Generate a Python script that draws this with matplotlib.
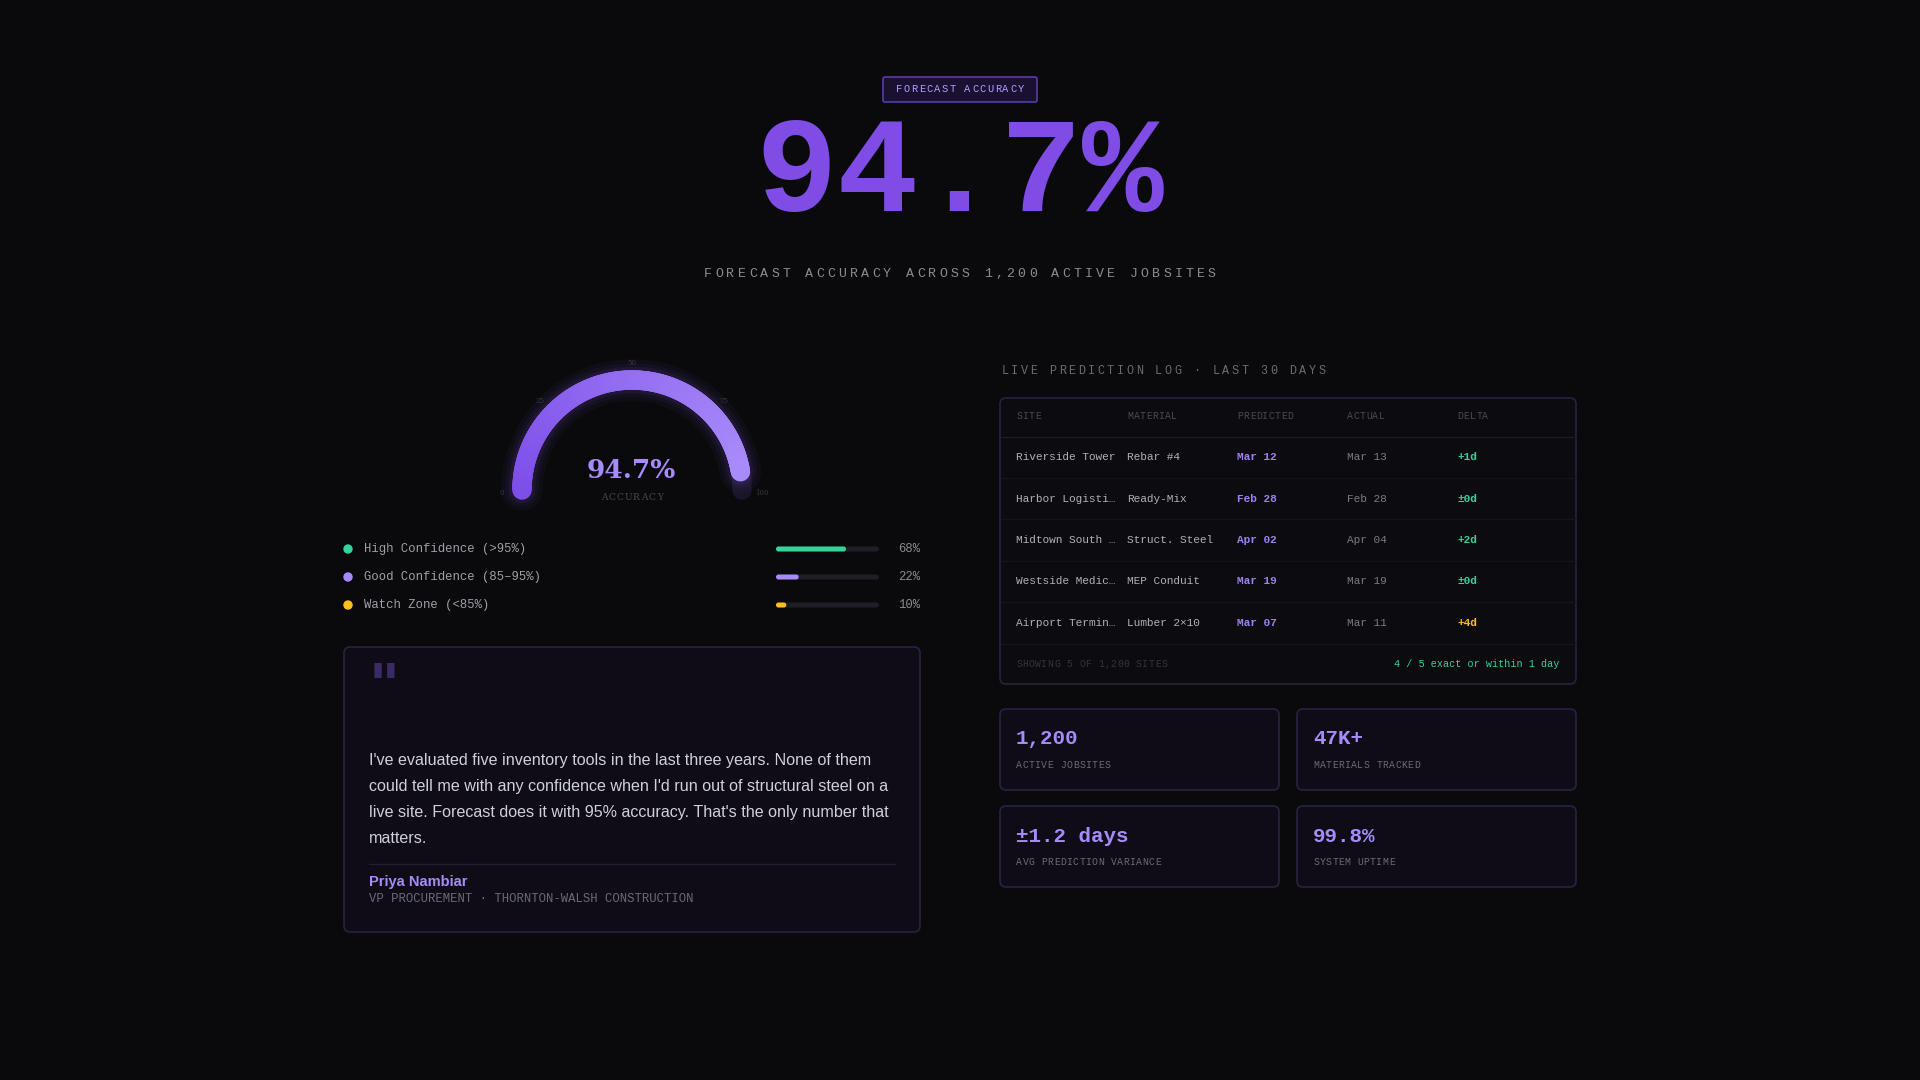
import matplotlib
matplotlib.use("Agg")
import matplotlib.pyplot as plt
import numpy as np
from matplotlib.patches import FancyBboxPatch, Circle

accuracy = 94.7
conf_labels = ["High Confidence (>95%)", "Good Confidence (85–95%)", "Watch Zone (<85%)"]
conf_values = [68, 22, 10]
conf_colors = ["#34d399", "#a78bfa", "#fbbf24"]
sites = ["Riverside Tower", "Harbor Logisti…", "Midtown South …", "Westside Medic…", "Airport Termin…"]
materials = ["Rebar #4", "Ready-Mix", "Struct. Steel", "MEP Conduit", "Lumber 2×10"]
predicted = ["Mar 12", "Feb 28", "Apr 02", "Mar 19", "Mar 07"]
actual = ["Mar 13", "Feb 28", "Apr 04", "Mar 19", "Mar 11"]
deltas = ["+1d", "±0d", "+2d", "±0d", "+4d"]
delta_colors = ["#34d399", "#34d399", "#34d399", "#34d399", "#fbbf24"]
stat_values = ["1,200", "47K+", "±1.2 days", "99.8%"]
stat_labels = ["ACTIVE JOBSITES", "MATERIALS TRACKED", "AVG PREDICTION VARIANCE", "SYSTEM UPTIME"]
gauge_ticks = ["0", "25", "50", "75", "100"]

BG = "#0a0a0c"
MONO = "Liberation Mono"
fig = plt.figure(figsize=(19.2, 10.8), dpi=100, facecolor=BG)
ax = fig.add_axes([0, 0, 1, 1])
ax.set_xlim(0, 1920); ax.set_ylim(1080, 0); ax.axis("off")
ax.set_facecolor(BG)

def box(x0, y0, x1, y1, fc="#100c18", ec="#2a2142", lw=1.2, r=6):
    ax.add_patch(FancyBboxPatch((x0, y0), x1 - x0, y1 - y0, boxstyle=f"round,pad=0,rounding_size={r}",
                                fc=fc, ec=ec, lw=lw))

def spaced(x, y, s, pitch, ha="left", **kw):
    w = pitch * len(s)
    x0 = x if ha == "left" else (x - w/2 if ha == "center" else x - w)
    for i, ch in enumerate(s):
        ax.text(x0 + pitch*(i + 0.5), y, ch, ha="center", va="center", **kw)

# header
box(883, 77, 1037, 102, fc="#1a1030", ec="#5b3aa8", r=2)
spaced(960, 89.5, "FORECAST ACCURACY", 7.6, ha="center", color="#b79cff", fontsize=7.5, family=MONO)
ax.text(960, 176, f"{accuracy}%", color="#7f4de6", fontsize=98, family=MONO, weight="bold",
        ha="center", va="center")
spaced(960, 274, "FORECAST ACCURACY ACROSS 1,200 ACTIVE JOBSITES", 11.2, ha="center",
       color="#8a8a90", fontsize=9.5, family=MONO)

# gauge
cx, cy, R = 632, 490, 110
th = np.linspace(np.pi, 0, 200)
ax.plot(cx + R*np.cos(th), cy - R*np.sin(th), color="#1a1528", lw=14, solid_capstyle="round")
end = np.pi * (1 - accuracy/100)
th2 = np.linspace(np.pi, end, 200)
xs, ys = cx + R*np.cos(th2), cy - R*np.sin(th2)
for lw, a in [(30, 0.04), (24, 0.06), (19, 0.08)]:
    ax.plot(xs, ys, color="#8b5cf6", lw=lw, alpha=a, solid_capstyle="round")
n = len(xs)
for i in range(n - 1):
    t = i/(n-1)
    c = np.array([0x7c, 0x4d, 0xe8])*(1-t) + np.array([0xa8, 0x8b, 0xfa])*t
    ax.plot(xs[i:i+2], ys[i:i+2], color=c/255, lw=14, solid_capstyle="round")
for k, lab in enumerate(gauge_ticks):
    a = np.pi*(1 - k/4)
    ax.text(cx + (R+20)*np.cos(a), cy - (R+20)*np.sin(a) + 3, lab, color="#3a3545", fontsize=5,
            ha="center", va="center", family="DejaVu Serif")
ax.text(631, 471, f"{accuracy}%", color="#a78bfa", fontsize=19, weight="bold", family="DejaVu Serif",
        ha="center", va="center")
spaced(632, 497, "ACCURACY", 8, ha="center", color="#4a4555", fontsize=6.5, family="DejaVu Serif")

# legend rows
for i, (lab, v, c) in enumerate(zip(conf_labels, conf_values, conf_colors)):
    y = 549 + 28*i
    ax.add_patch(Circle((348, y), 4, color=c))
    ax.text(364, y, lab, color="#a0a0a8", fontsize=8.8, family=MONO, va="center")
    ax.add_patch(FancyBboxPatch((776, y-2.5), 103, 5, boxstyle="round,pad=0,rounding_size=2.5", fc="#1e1e26", ec="none"))
    ax.add_patch(FancyBboxPatch((776, y-2.5), 103*v/100, 5,
                                boxstyle="round,pad=0,rounding_size=2.5", fc=c, ec="none"))
    ax.text(920, y, f"{v}%", color="#8a8a90", fontsize=8.8, family=MONO, va="center", ha="right")

# quote card
box(344, 647, 920, 932, fc="#0f0c17", ec="#2a2142")
ax.text(370, 690, '"', color="#3b2a63", fontsize=44, family="Liberation Sans", weight="bold", va="center")
quote = ["I've evaluated five inventory tools in the last three years. None of them",
         "could tell me with any confidence when I'd run out of structural steel on a",
         "live site. Forecast does it with 95% accuracy. That's the only number that",
         "matters."]
for i, l in enumerate(quote):
    ax.text(369, 760 + 26.3*i, l, color="#d0d0d8", fontsize=11.6, family="Liberation Sans", va="center")
ax.plot([369, 895], [864, 864], color="#221c30", lw=1)
ax.text(369, 882, "Priya Nambiar", color="#a78bfa", fontsize=10.5, weight="bold", family="Liberation Sans", va="center")
ax.text(369, 899, "VP PROCUREMENT · THORNTON-WALSH CONSTRUCTION", color="#6b6b75", fontsize=8.8, family=MONO, va="center")

# table
spaced(1000, 371, "LIVE PREDICTION LOG · LAST 30 DAYS", 9.6, color="#6b6b75", fontsize=8.5, family=MONO)
box(1000, 398, 1576, 684, fc="#0c0b10", ec="#2a2142")
colx = [1016, 1127, 1237, 1347, 1457]
for x, h in zip(colx, ["SITE", "MATERIAL", "PREDICTED", "ACTUAL", "DELTA"]):
    spaced(x, 416, h, 6.3, color="#4a4a55", fontsize=7, family=MONO)
ax.plot([1001, 1575], [437, 437], color="#1c1a26", lw=1)
for i in range(5):
    y = 457 + 41.5*i
    ax.text(colx[0], y, sites[i], color="#b0b0b8", fontsize=8, family=MONO, va="center")
    ax.text(colx[1], y, materials[i], color="#b0b0b8", fontsize=8, family=MONO, va="center")
    ax.text(colx[2], y, predicted[i], color="#9f7ff5", fontsize=8, family=MONO, weight="bold", va="center")
    ax.text(colx[3], y, actual[i], color="#7a7a84", fontsize=8, family=MONO, va="center")
    ax.text(colx[4], y, deltas[i], color=delta_colors[i], fontsize=8, family=MONO, weight="bold", va="center")
    ax.plot([1001, 1575], [y+20.5, y+20.5], color="#15131c", lw=1)
spaced(1016, 664, "SHOWING 5 OF 1,200 SITES", 6.3, color="#34343c", fontsize=7, family=MONO)
ax.text(1559, 664, "4 / 5 exact or within 1 day", color="#34d399", fontsize=7.3, family=MONO, va="center", ha="right")

# stat cards
cards = [(1000, 709), (1297, 709), (1000, 806), (1297, 806)]
for (x0, y0), v, l in zip(cards, stat_values, stat_labels):
    box(x0, y0, x0 + 279, y0 + 81, fc="#0f0c17", ec="#2a2142")
    ax.text(x0 + 16, y0 + 30, v, color="#a78bfa", fontsize=15, weight="bold", family=MONO, va="center")
    spaced(x0 + 16, y0 + 56, l, 6.3, color="#6b6b75", fontsize=7, family=MONO)

fig.savefig("out.png", dpi=100, facecolor=BG)
